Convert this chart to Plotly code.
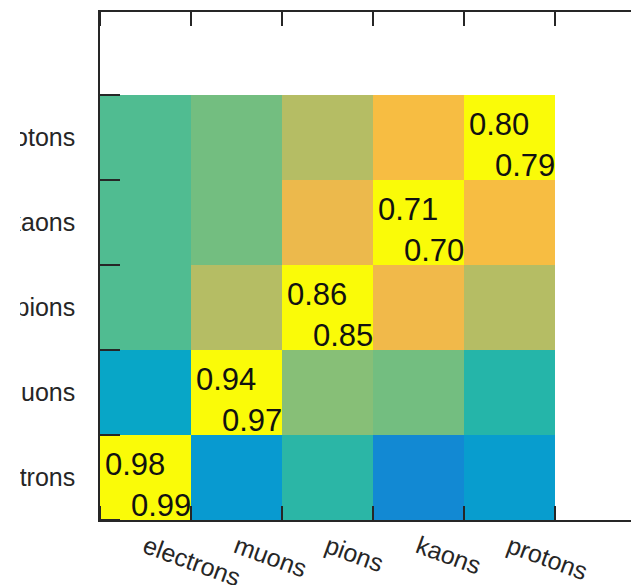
import plotly.graph_objects as go

# particle species on both axes (x: assigned, y: true)
particles = ["electrons", "muons", "pions", "kaons", "protons"]

# diagonal efficiencies: upper and lower figure in each diagonal cell
eff_upper = [0.98, 0.94, 0.86, 0.71, 0.80]
eff_lower = [0.99, 0.97, 0.85, 0.70, 0.79]

# colour level of every cell, one list per row (electrons at the bottom)
level_electrons = [1.00, 0.26, 0.41, 0.21, 0.27]
level_muons = [0.31, 1.00, 0.55, 0.52, 0.40]
level_pions = [0.47, 0.63, 1.00, 0.75, 0.63]
level_kaons = [0.47, 0.52, 0.74, 1.00, 0.77]
level_protons = [0.47, 0.52, 0.63, 0.77, 1.00]

levels = [level_electrons, level_muons, level_pions, level_kaons, level_protons]

# parula colour map
parula = [
    (0.2081, 0.1663, 0.5292), (0.1959, 0.2645, 0.7279), (0.0117, 0.3875, 0.8820),
    (0.0498, 0.4586, 0.8641), (0.0793, 0.5200, 0.8312), (0.0343, 0.5966, 0.8199),
    (0.0231, 0.6418, 0.7913), (0.0590, 0.6838, 0.7254), (0.1453, 0.7098, 0.6646),
    (0.2586, 0.7317, 0.5954), (0.3953, 0.7459, 0.5244), (0.5300, 0.7491, 0.4661),
    (0.6473, 0.7456, 0.4188), (0.7525, 0.7384, 0.3768), (0.8507, 0.7299, 0.3360),
    (0.9450, 0.7261, 0.2886), (0.9990, 0.7653, 0.2164), (0.9789, 0.8271, 0.1633),
    (0.9589, 0.8949, 0.1132), (0.9661, 0.9514, 0.0755), (0.9800, 0.9850, 0.0300),
]
n = len(parula) - 1
colorscale = [
    [k / n, "rgb(%d,%d,%d)" % tuple(round(c * 255) for c in rgb)]
    for k, rgb in enumerate(parula)
]

positions = list(range(1, len(particles) + 1))
boundaries = [p + 0.5 for p in range(0, len(particles) + 1)]

ink = "#262626"
font = "Liberation Sans, Arial, Helvetica, sans-serif"

fig = go.Figure(
    go.Heatmap(
        x=positions,
        y=positions,
        z=levels,
        zmin=0,
        zmax=1,
        colorscale=colorscale,
        showscale=False,
        hoverinfo="skip",
    )
)

# two efficiency figures in every diagonal cell
for p, up, lo in zip(positions, eff_upper, eff_lower):
    fig.add_annotation(
        x=p - 0.5, y=p + 0.5, xref="x", yref="y",
        text="%.2f" % up, showarrow=False,
        xanchor="left", yanchor="middle", xshift=3, yshift=-29,
        font=dict(family=font, size=31, color="#111111"),
    )
    fig.add_annotation(
        x=p + 0.5, y=p - 0.5, xref="x", yref="y",
        text="%.2f" % lo, showarrow=False,
        xanchor="right", yanchor="middle", xshift=2, yshift=15,
        font=dict(family=font, size=31, color="#111111"),
    )

W, H = 631, 585
ml, mt, mb = 100, 12, 65
cell_w, cell_h = 91, 85
x_hi = 0.5 + (W - ml) / cell_w
y_hi = 0.5 + (H - mt - mb) / cell_h

# blank strip along the left edge of the page
fig.add_shape(
    type="rect", xref="paper", yref="paper",
    x0=-ml / (W - ml), x1=-(ml - 20) / (W - ml), y0=-mb / (H - mt - mb), y1=1 + mt / (H - mt - mb),
    fillcolor="white", line=dict(width=0), layer="above",
)

fig.update_layout(
    width=W,
    height=H,
    margin=dict(l=ml, r=0, t=mt, b=mb, pad=0),
    paper_bgcolor="white",
    plot_bgcolor="white",
    showlegend=False,
    xaxis=dict(
        range=[0.5, x_hi],
        tickmode="array",
        tickvals=positions,
        ticktext=particles,
        ticks="",
        tickangle=20,
        tickfont=dict(family=font, size=25, color=ink),
        showgrid=False,
        zeroline=False,
        showline=True,
        linecolor=ink,
        linewidth=1.5,
        mirror="ticks",
        minor=dict(ticks="inside", tick0=0.5, dtick=1, ticklen=14,
                   tickwidth=1.5, tickcolor=ink, showgrid=False),
        automargin=False,
        ticklabelstandoff=1,
    ),
    yaxis=dict(
        range=[0.5, y_hi],
        tickmode="array",
        tickvals=positions,
        ticktext=particles,
        ticks="",
        tickfont=dict(family=font, size=25, color=ink),
        showgrid=False,
        zeroline=False,
        showline=True,
        linecolor=ink,
        linewidth=1.5,
        mirror=False,
        minor=dict(ticks="inside", tick0=0.5, dtick=1, ticklen=20,
                   tickwidth=1.5, tickcolor=ink, showgrid=False),
        automargin=False,
        ticklabelstandoff=18,
    ),
    yaxis2=dict(
        overlaying="y",
        side="right",
        anchor="x",
        range=[0.5, y_hi],
        tickmode="array",
        tickvals=boundaries,
        ticks="inside",
        ticklen=8,
        tickwidth=1.5,
        tickcolor=ink,
        showticklabels=False,
        showgrid=False,
        zeroline=False,
        showline=False,
        automargin=False,
    ),
)

fig.write_html("out.html")
